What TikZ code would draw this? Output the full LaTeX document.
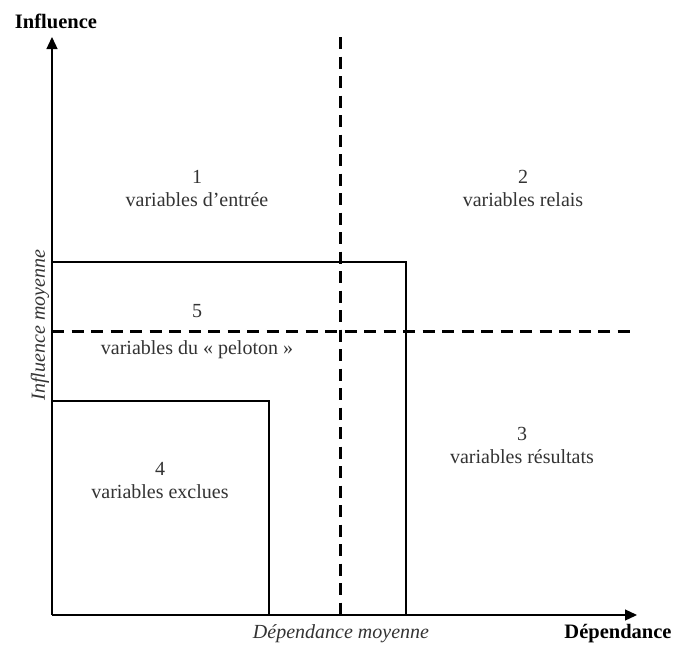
\documentclass[tikz,border=0pt]{standalone}
\usepackage{fontspec}
\setmainfont{Liberation Serif}
\usetikzlibrary{arrows.meta}
\begin{document}
\begin{tikzpicture}[x=1pt,y=-1pt,
  axis/.style={line width=1.3pt,-{Triangle[length=12pt,width=11pt]}},
  box/.style={line width=1.3pt},
  mid/.style={line width=3pt,dash pattern=on 12pt off 7.5pt},
  lbl/.style={font=\fontsize{20}{23}\selectfont,text=black!80,align=center,inner sep=0pt},
  ax/.style={font=\fontsize{20.5}{24}\selectfont\bfseries,inner sep=0pt},
  axi/.style={font=\fontsize{20}{23}\selectfont\itshape,text=black!80,inner sep=0pt}]
\useasboundingbox (0,0) rectangle (678,646);
\coordinate (O) at (52,615);
\coordinate (ytop) at (52,37);
\coordinate (xend) at (637,615);
\draw[axis] (O) -- (ytop);
\draw[axis] (O) -- (xend);
\node[ax] (yl) at (56,21) {Influence};
\node[ax] (xl) at (618,634) {Dépendance};
\node[axi] (xm) at (341,634) {Dépendance moyenne};
\node[axi,rotate=90] (ym) at (40,325) {Influence moyenne};
% rectangles
\coordinate (r1) at (406,262);
\coordinate (r2) at (269,401);
\draw[box] (O |- r1) -- (r1) -- (r1 |- O);
\draw[box] (O |- r2) -- (r2) -- (r2 |- O);
% dashed means
\coordinate (vtop) at (340,37);
\coordinate (vbot) at (340,615);
\coordinate (hl) at (52,331);
\coordinate (hr) at (637,331);
\draw[mid] (vtop) -- (vbot);
\draw[mid] (hl) -- (hr);
% labels
\node[lbl] (n1) at (197,188) {1\\variables d’entrée};
\node[lbl] (n2) at (523,188) {2\\variables relais};
\node[lbl] (n5a) at (197,311) {5};
\node[lbl] (n5b) at (197,350) {variables du « peloton »};
\node[lbl] (n3) at (522,445) {3\\variables résultats};
\node[lbl] (n4) at (160,481) {4\\variables exclues};
\end{tikzpicture}
\end{document}
